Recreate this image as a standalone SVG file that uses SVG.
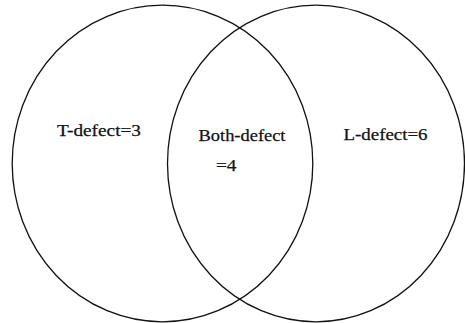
<svg xmlns="http://www.w3.org/2000/svg" width="465" height="323" viewBox="0 0 465 323">
<style>
.set{fill:none;stroke:#111;stroke-width:1.3}
.lbl{font-family:'Liberation Serif','DejaVu Serif',serif;font-size:17px;fill:#111;stroke:#111;stroke-width:0.25}
</style>
<rect width="465" height="323" fill="#fff"/>
<g id="T-set"><ellipse class="set" cx="162.5" cy="163.5" rx="150.3" ry="158.3"/><text class="lbl" font-family="Liberation Serif, serif" x="57" y="136" textLength="84" lengthAdjust="spacingAndGlyphs">T-defect=3</text></g>
<g id="L-set"><ellipse class="set" cx="316" cy="163.5" rx="148.5" ry="158.3"/><text class="lbl" font-family="Liberation Serif, serif" x="343.5" y="140" textLength="84" lengthAdjust="spacingAndGlyphs">L-defect=6</text></g>
<g id="both"><text class="lbl" font-family="Liberation Serif, serif" x="198.5" y="140.5" textLength="87" lengthAdjust="spacingAndGlyphs">Both-defect</text><text class="lbl" font-family="Liberation Serif, serif" x="216" y="171" textLength="20.5" lengthAdjust="spacingAndGlyphs">=4</text></g>
<g id="connectors"></g>
</svg>
